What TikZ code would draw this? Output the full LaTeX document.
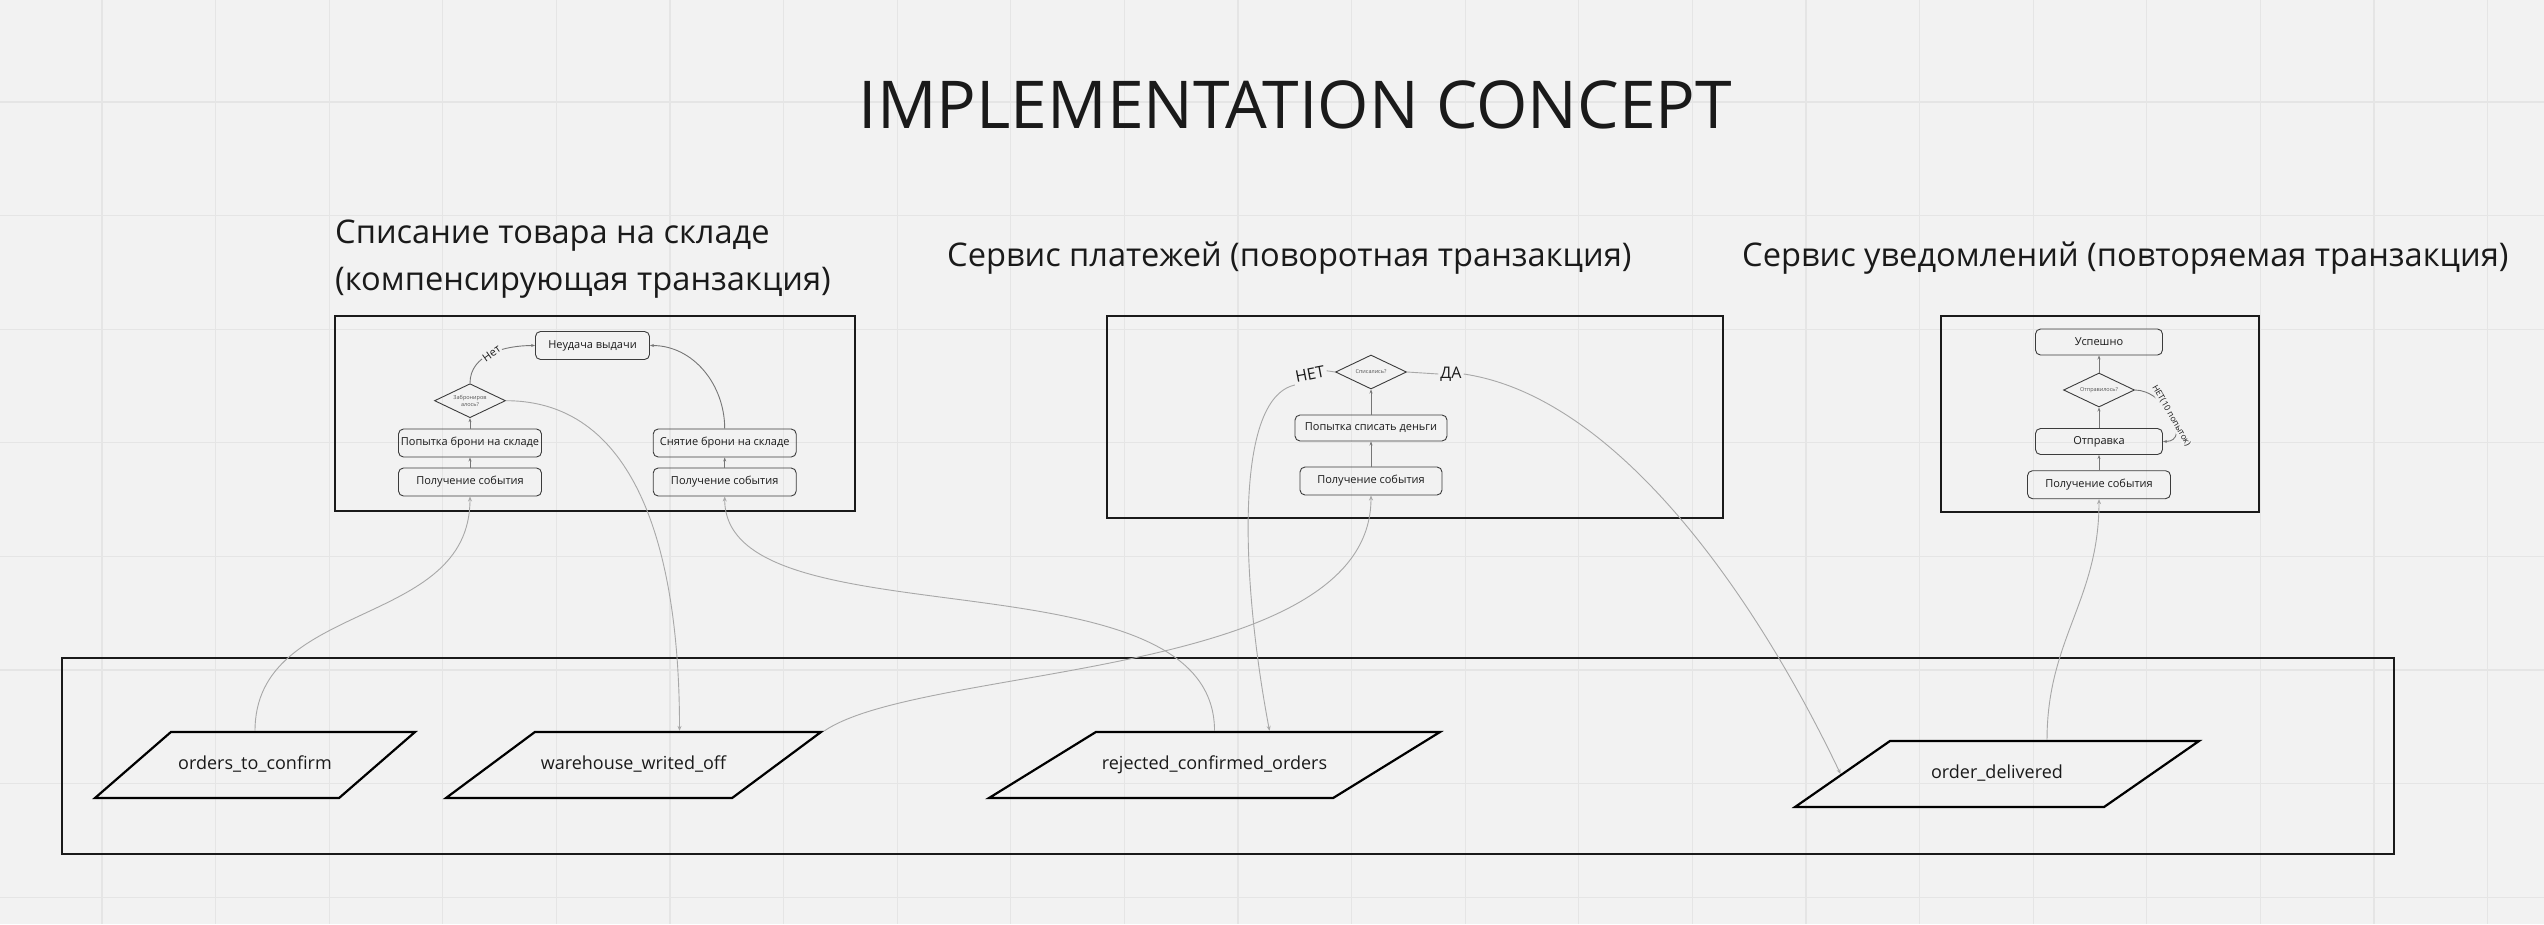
\documentclass[tikz,border=0pt]{standalone}
\usepackage{fontspec}
\setmainfont{Open Sans}
\usepackage{tikz}
\usetikzlibrary{arrows.meta,calc}
\usetikzlibrary{shapes.geometric,positioning}
\definecolor{bg}{HTML}{F2F2F2}
\definecolor{gridgray}{HTML}{E5E5E5}
\definecolor{linegray}{HTML}{A8A8A8}
\definecolor{ink}{HTML}{1A1A1A}
\tikzset{
    % рамки сервисов
    framebox/.style={line width=2.5pt, ink},
    gridline/.style={line width=1.3pt, gridgray},
    % шаги внутри сервиса
    stepnode/.style={
        draw=ink!85, line width=0.9pt, rounded corners=5pt,
        minimum width=143pt, minimum height=28pt, inner sep=0pt,
        font=\fontsize{11}{13}\selectfont, text=ink
    },
    decision/.style={
        diamond, draw=ink!85, line width=0.9pt, aspect=2.1,
        minimum width=71pt, minimum height=34pt, inner sep=0pt,
        font=\fontsize{5.5}{6.5}\selectfont, align=center, text=ink!75
    },
    % топики
    topic/.style={
        trapezium, draw=black, line width=2.2pt,
        trapezium stretches body, inner xsep=0pt, inner ysep=24pt,
        text height=13.7pt, text depth=4.3pt,
        font=\fontsize{18}{22}\selectfont, text=ink
    },
    heading/.style={font=\fontsize{32.6}{47.4}\selectfont, text=ink, inner sep=0pt},
    answer/.style={font=\fontsize{16}{18}\selectfont, text=ink, inner sep=2pt},
    grayarrow/.style={
        line width=0.9pt, linegray, ->,
        >={Stealth[length=5pt, width=4pt]}
    },
    steparrow/.style={
        line width=0.9pt, ink!60, ->,
        >={Stealth[length=4pt, width=3pt]}
    }
}
\begin{document}
\begin{tikzpicture}[x=1pt,y=1pt]
    % ===================== фон и сетка =====================
    \useasboundingbox (0,0) rectangle (2544,-924);
    \fill[bg] (0,0) rectangle (2544,-924);
    \foreach \gx in {0,...,21}
        \draw[gridline] ({102+113.6*\gx},0) -- ({102+113.6*\gx},-924);
    \foreach \gy in {-2,...,5}
        \draw[gridline] (0,{-670+113.6*\gy}) -- (2544,{-670+113.6*\gy});

    % ===================== заголовки =====================
    \node[font=\fontsize{66}{80}\selectfont, text=ink, anchor=base, inner sep=0pt] (title) at (1295.5,-128) {IMPLEMENTATION CONCEPT};
    \node[heading, anchor=base west, align=left] (h1) at (335,-290.7) {Списание товара на складе\\(компенсирующая транзакция)};
    \node[heading, anchor=base west] (h2) at (947,-266.7) {Сервис платежей (поворотная транзакция)};
    \node[heading, anchor=base west] (h3) at (1742,-266.7) {Сервис уведомлений (повторяемая транзакция)};

    % ===================== рамки =====================
    \draw[framebox] (335,-316) rectangle (855,-511);
    \draw[framebox] (1107,-316) rectangle (1723,-518);
    \draw[framebox] (1941,-316) rectangle (2259,-512);
    \draw[framebox] (62,-658) rectangle (2394,-854);

    % ===================== склад =====================
    \node[stepnode] (get1) at (470,-482) {Получение события};
    \node[stepnode] (try1) at (470,-443) {Попытка брони на складе};
    \node[decision] (dec1) at (470,-400.7) {Заброниров\\алось?};
    \node[stepnode, minimum width=114pt] (fail1) at (592.5,-345.5) {Неудача выдачи};
    \node[stepnode] (undo1) at (724.7,-443) {Снятие брони на складе};
    \node[stepnode] (get2) at (724.7,-482) {Получение события};

    \draw[steparrow] (get1.north) -- (try1.south);
    \draw[steparrow] (try1.north) -- (dec1.south);
    \draw[steparrow] (dec1.north) to[out=90,in=180]
        node[pos=0.5, rotate=35, fill=bg, inner sep=1pt, font=\fontsize{11}{13}\selectfont, text=ink] {Нет} (fail1.west);
    \draw[steparrow] (get2.north) -- (undo1.south);
    \draw[steparrow] (undo1.north) to[out=90,in=0] (fail1.east);

    % ===================== платежи =====================
    \node[stepnode, minimum width=142pt] (get3) at (1371,-481) {Получение события};
    \node[stepnode, minimum width=152pt, minimum height=26pt] (pay) at (1371,-428) {Попытка списать деньги};
    \node[decision] (dec2) at (1371,-372) {Списались?};
    \node[answer, rotate=11] (no2) at (1310,-374) {НЕТ};
    \node[answer] (yes2) at (1451,-374) {ДА};

    \draw[steparrow] (get3.north) -- (pay.south);
    \draw[steparrow] (pay.north) -- (dec2.south);
    \draw[linegray, line width=0.9pt] (dec2.west) -- (no2.east);
    \draw[linegray, line width=0.9pt] (dec2.east) -- (yes2.west);

    % ===================== уведомления =====================
    \node[stepnode, minimum width=127pt, minimum height=26pt] (ok3) at (2099,-342) {Успешно};
    \node[decision] (dec3) at (2099,-390) {Отправилось?};
    \node[stepnode, minimum width=127pt, minimum height=26pt] (send3) at (2099,-441.5) {Отправка};
    \node[stepnode] (get4) at (2099,-484.7) {Получение события};

    \draw[steparrow] (get4.north) -- (send3.south);
    \draw[steparrow] (send3.north) -- (dec3.south);
    \draw[steparrow] (dec3.north) -- (ok3.south);
    \draw[steparrow] (dec3.east) to[out=0,in=0,looseness=1.3]
        node[pos=0.5, rotate=-60, fill=bg, inner sep=1pt, font=\fontsize{8.5}{10}\selectfont, text=ink] {НЕТ(10 попыток)} (send3.east);

    % ===================== топики =====================
    \node[topic, minimum width=320pt, trapezium left angle=41, trapezium right angle=139] (o2c) at (255,-765) {orders\_to\_confirm};
    \node[topic, minimum width=375pt, trapezium left angle=36.6, trapezium right angle=143.4] (wwo) at (633.5,-765) {warehouse\_writed\_off};
    \node[topic, minimum width=451pt, trapezium left angle=31.7, trapezium right angle=148.3] (rco) at (1214.5,-765) {rejected\_confirmed\_orders};
    \node[topic, minimum width=404pt, trapezium left angle=34.8, trapezium right angle=145.2] (od) at (1997,-774) {order\_delivered};

    % связи
    \draw[grayarrow] (o2c.north) .. controls +(0,132) and +(0,-133) .. (get1.south);
    \draw[grayarrow] (dec1.east) .. controls +(134,0) and +(0,172) .. ([xshift=46pt]wwo.north);
    \draw[grayarrow] (rco.north) .. controls +(0,185) and +(0,-150) .. (get2.south);
    \draw[grayarrow] (wwo.top right corner) .. controls +(99,67) and +(0,-185) .. (get3.south);
    \draw[grayarrow] (no2.south west) .. controls +(-63,-14) and +(-27,142) .. ([xshift=55pt]rco.north);
    \draw[grayarrow] (yes2.east) .. controls +(156,-23) and +(-82,172) .. ($(od.bottom left corner)!0.5!(od.top left corner)$);
    \draw[grayarrow] ([xshift=50pt]od.north) .. controls +(0,101) and +(0,-101) .. (get4.south);
\end{tikzpicture}
\end{document}
